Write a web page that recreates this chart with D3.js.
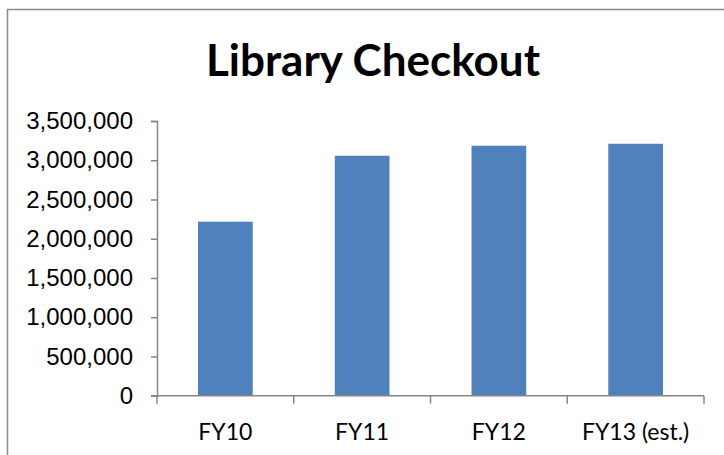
<!DOCTYPE html>
<html>
<head>
  <meta charset="utf-8">
  <script src="https://d3js.org/d3.v7.min.js"></script>
  <style>
    body { margin: 0; background: #fff; }
    svg { font-family: Lato, "Open Sans", sans-serif; }
  </style>
</head>
<body>
  <svg width="724" height="455"></svg>

  <script>
    // Chart data
    const categories = ["FY10", "FY11", "FY12", "FY13 (est.)"];
    const checkouts = [2217000, 3057000, 3185000, 3210000];
    const yTicks = [0, 500000, 1000000, 1500000, 2000000, 2500000, 3000000, 3500000];
    const title = "Library Checkout";

    const data = categories.map((c, i) => ({ category: c, value: checkouts[i] }));

    const svg = d3.select("svg");

    // outer chart border (right/bottom edges fall outside the picture)
    svg.append("rect")
      .attr("x", 7.5)
      .attr("y", 9.5)
      .attr("width", 730)
      .attr("height", 460)
      .attr("fill", "none")
      .attr("stroke", "#8c8c8c")
      .attr("stroke-width", 1.5);

    const xScale = d3.scaleBand()
      .domain(categories)
      .range([157, 704])
      .paddingInner(0.6)
      .paddingOuter(0.3);

    const yScale = d3.scaleLinear()
      .domain([0, 3500000])
      .range([395.7, 121]);

    // bars
    svg.selectAll(".bar")
      .data(data)
      .enter()
      .append("rect")
      .attr("class", "bar")
      .attr("x", d => xScale(d.category))
      .attr("y", d => yScale(d.value))
      .attr("width", xScale.bandwidth())
      .attr("height", d => yScale(0) - yScale(d.value))
      .attr("fill", "#4f81bd");

    // y axis
    const yAxis = svg.append("g")
      .attr("transform", "translate(157, 0)")
      .call(d3.axisLeft(yScale)
        .tickValues(yTicks)
        .tickSize(6)
        .tickPadding(18)
        .tickFormat(d3.format(",")));

    yAxis.select(".domain").attr("stroke", "#868686").attr("stroke-width", 1.5);
    yAxis.selectAll(".tick line").attr("stroke", "#868686").attr("stroke-width", 1.5);
    yAxis.selectAll("text")
      .attr("fill", "#000")
      .style("font-size", "24px");

    // x axis, ticks sit between categories
    const xAxis = svg.append("g")
      .attr("transform", "translate(0, 395.7)");

    const step = (704 - 157) / categories.length;
    const xBounds = d3.range(categories.length + 1).map(i => 157 + i * step);

    xAxis.append("line")
      .attr("x1", 151)
      .attr("x2", 704)
      .attr("stroke", "#868686")
      .attr("stroke-width", 1.5);

    xAxis.selectAll(".xtick")
      .data(xBounds)
      .enter()
      .append("line")
      .attr("x1", d => d)
      .attr("x2", d => d)
      .attr("y1", 0)
      .attr("y2", 8)
      .attr("stroke", "#868686")
      .attr("stroke-width", 1.5);

    xAxis.selectAll(".xlabel")
      .data(categories)
      .enter()
      .append("text")
      .attr("x", d => xScale(d) + xScale.bandwidth() / 2)
      .attr("y", 44)
      .attr("text-anchor", "middle")
      .style("font-size", "23px")
      .text(d => d);

    // title
    svg.append("text")
      .attr("x", 373)
      .attr("y", 76)
      .attr("text-anchor", "middle")
      .style("font-size", "44px")
      .style("font-weight", "bold")
      .text(title);
  </script>
</body>
</html>
